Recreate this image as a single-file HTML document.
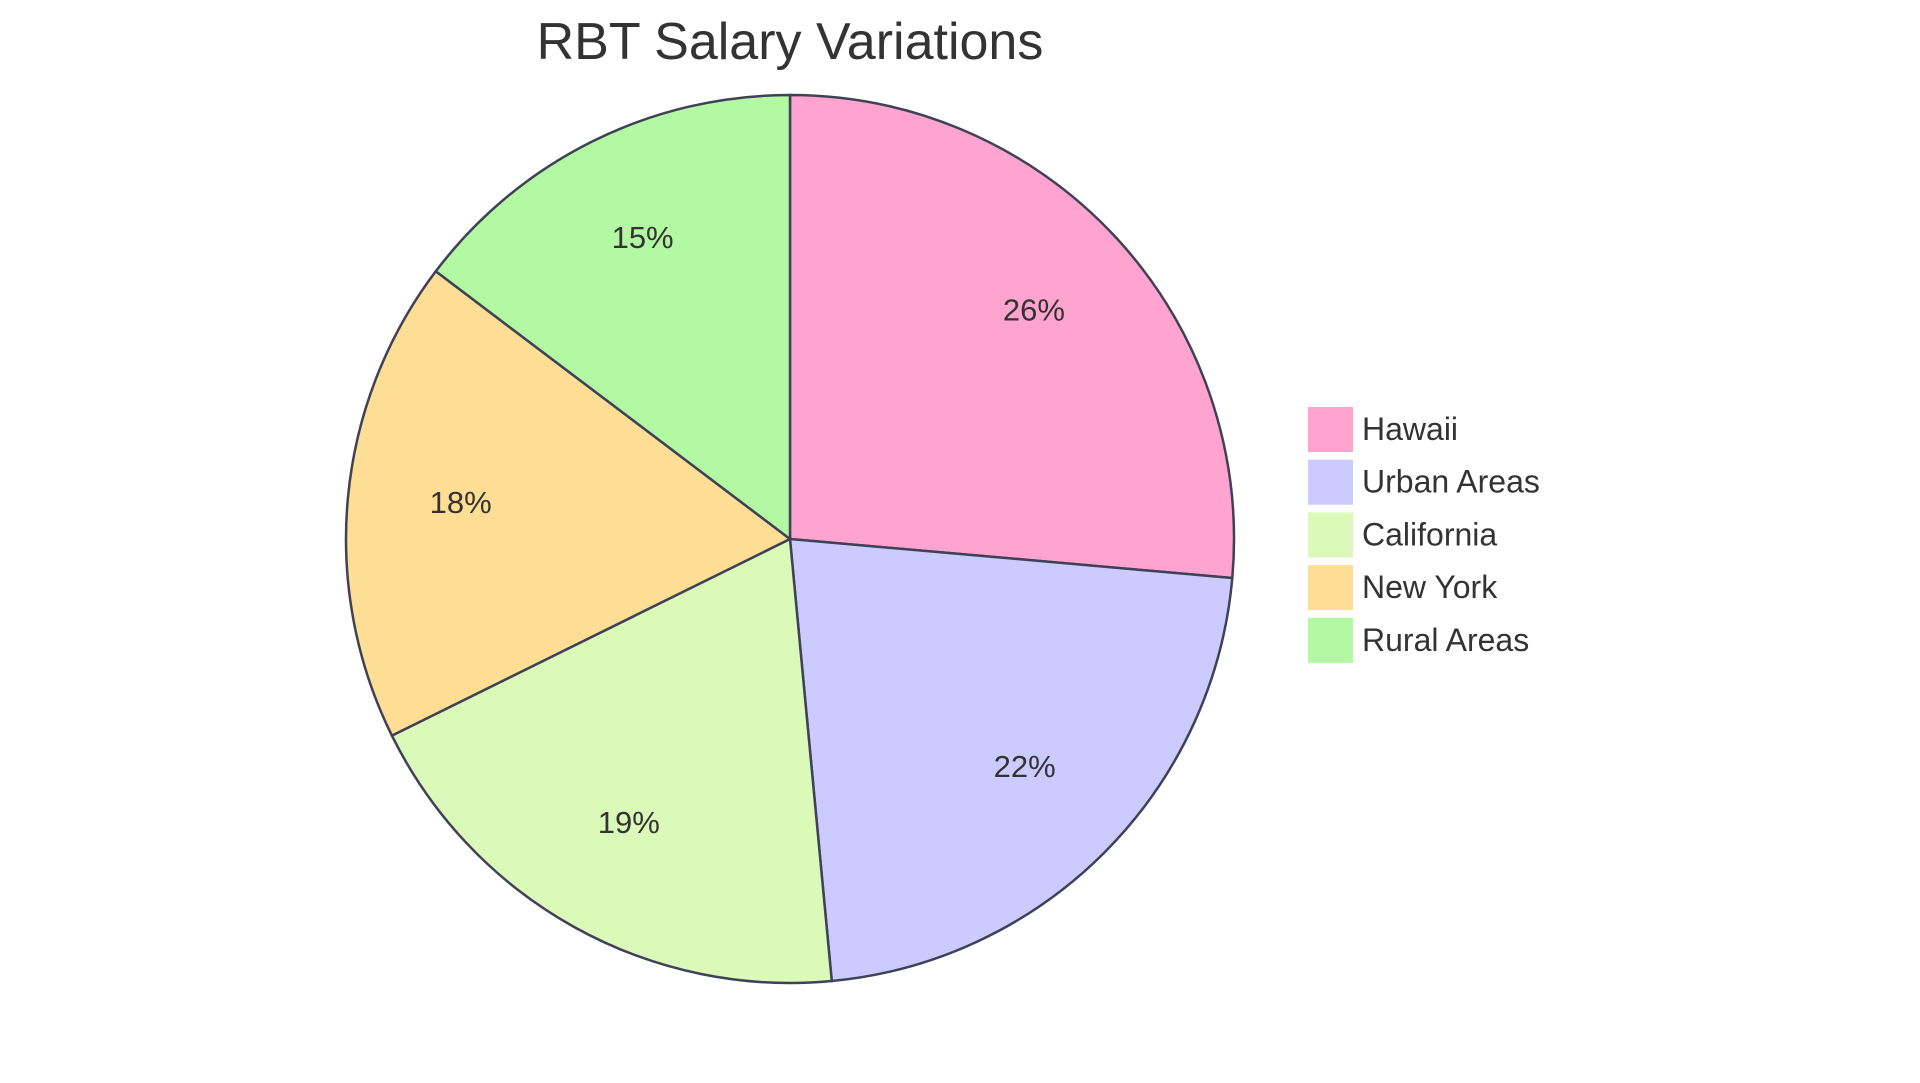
<!DOCTYPE html>
<html><head><meta charset="utf-8"><style>
html,body{margin:0;padding:0;background:#fff;width:1920px;height:1083px;overflow:hidden}
svg{display:block}
text{font-family:"Liberation Sans",sans-serif;fill:#333}
</style></head><body>
<svg id="chart" width="1920" height="1083">
<text x="790" y="59" text-anchor="middle" font-size="52">RBT Salary Variations</text>
<g id="slices"></g><g id="labels"></g><g id="legend"></g>
</svg>
<script>
const categories=["Hawaii","Urban Areas","California","New York","Rural Areas"];
const values=[26.4,22.1,19.2,17.6,14.7];
const colors=["#ffa3cf","#cbcbff","#dbf9b9","#fedd94","#b3f8a2"];
const cx=790,cy=539,r=444,NS="http://www.w3.org/2000/svg";
const total=values.reduce((a,b)=>a+b,0);
let a0=0;
const sl=document.getElementById('slices'),lb=document.getElementById('labels'),lg=document.getElementById('legend');
function pt(a,rr){return [cx+rr*Math.sin(a),cy-rr*Math.cos(a)];}
values.forEach((v,i)=>{
  const a1=a0+v/total*2*Math.PI;
  const [x0,y0]=pt(a0,r),[x1,y1]=pt(a1,r);
  const p=document.createElementNS(NS,'path');
  p.setAttribute('d',`M${cx},${cy}L${x0},${y0}A${r},${r} 0 ${a1-a0>Math.PI?1:0} 1 ${x1},${y1}Z`);
  p.setAttribute('fill',colors[i]);p.setAttribute('stroke','#3f4257');p.setAttribute('stroke-width','2.5');
  
  
  sl.appendChild(p);
  const [lx,ly]=pt((a0+a1)/2,r*0.745);
  const t=document.createElementNS(NS,'text');
  t.setAttribute('x',lx);t.setAttribute('y',ly+5);t.setAttribute('text-anchor','middle');t.setAttribute('font-size','31');
  t.textContent=Math.round(v/total*100)+'%';
  
  
  lb.appendChild(t);
  const y=407+i*52.7;
  const rc=document.createElementNS(NS,'rect');
  rc.setAttribute('x',1308);rc.setAttribute('y',y);rc.setAttribute('width',45);rc.setAttribute('height',45);
  rc.setAttribute('fill',colors[i]);
  
  
  lg.appendChild(rc);
  const lt=document.createElementNS(NS,'text');
  lt.setAttribute('x',1362);lt.setAttribute('y',y+33);lt.setAttribute('font-size','32');
  lt.textContent=categories[i];
  
  
  lg.appendChild(lt);
  a0=a1;
});
</script>
</body></html>
